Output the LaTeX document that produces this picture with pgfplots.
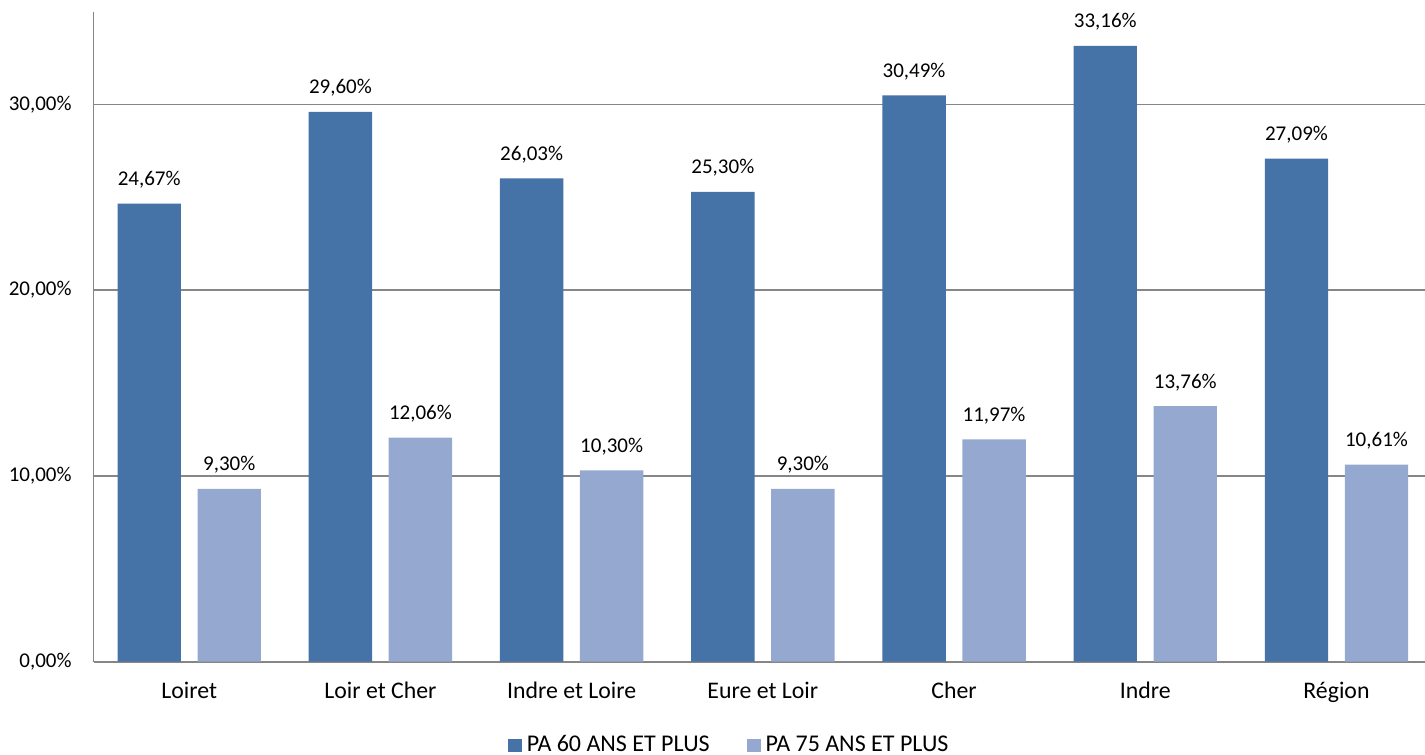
\documentclass[border=0pt]{standalone}
\usepackage{fontspec}
\setmainfont{Carlito}
\usepackage{pgfplots}
\pgfplotsset{compat=1.18}
\definecolor{darkbar}{HTML}{4572A7}
\definecolor{lightbar}{HTML}{95A9D0}
\definecolor{gridgray}{HTML}{868686}
\begin{document}
\begin{tikzpicture}
\begin{axis}[
  at={(0pt,0pt)}, anchor=south west,
  scale only axis,
  width=665.7pt, height=325pt,
  xmin=-0.5, xmax=6.463,
  ymin=0, ymax=35,
  ybar=8.3pt, bar width=31.7pt,
  axis lines*=left,
  axis line style={-, draw=gridgray, line width=0.9pt},
  xtick={0,1,2,3,4,5,6},
  xticklabels={Loiret,Loir et Cher,Indre et Loire,Eure et Loir,Cher,Indre,Région},
  ytick={0,10,20,30},
  ymajorgrids,
  grid style={draw=gridgray, line width=0.9pt},
  major tick length=0pt,
  tick style={draw=none},
  /pgf/number format/.cd, fixed, fixed zerofill, precision=2, use comma, assume math mode=true,
  /pgfplots/.cd,
  yticklabel={\pgfmathprintnumber{\tick}\%},
  yticklabel style={font=\fontsize{10.5}{12}\selectfont, anchor=base east, inner sep=0pt, xshift=-10.8pt, yshift=-2.85pt},
  xticklabel style={font=\fontsize{11.9}{13}\selectfont, anchor=base, inner sep=0pt, yshift=-18.3pt},
  nodes near coords={\pgfmathprintnumber{\pgfplotspointmeta}\%},
  nodes near coords style={font=\fontsize{10.5}{12}\selectfont, anchor=base, inner sep=0pt, yshift=9pt},
  legend columns=2,
  legend style={at={(axis description cs:0.4766,0)}, anchor=center, yshift=-41.8pt, draw=none, fill=none,
    font=\fontsize{12}{13}\selectfont, /tikz/every even column/.append style={column sep=18.5pt},
    inner sep=0pt, nodes={inner sep=0pt, anchor=west}},
  legend image code/.code={\fill[#1] (0pt,-3.3pt) rectangle (7pt,3.3pt);},
  legend cell align=left,
]
\addplot[fill=darkbar, draw=none] coordinates {(0,24.67) (1,29.60) (2,26.03) (3,25.30) (4,30.49) (5,33.16) (6,27.09)};
\addplot[fill=lightbar, draw=none] coordinates {(0,9.30) (1,12.06) (2,10.30) (3,9.30) (4,11.97) (5,13.76) (6,10.61)};
\legend{\hspace{2.5pt}PA 60 ANS ET PLUS, \hspace{2.5pt}PA 75 ANS ET PLUS}
\end{axis}
\pgfresetboundingbox
\path (-46.8pt,-46.65pt) rectangle (665.7pt,330.85pt);
\end{tikzpicture}
\end{document}
